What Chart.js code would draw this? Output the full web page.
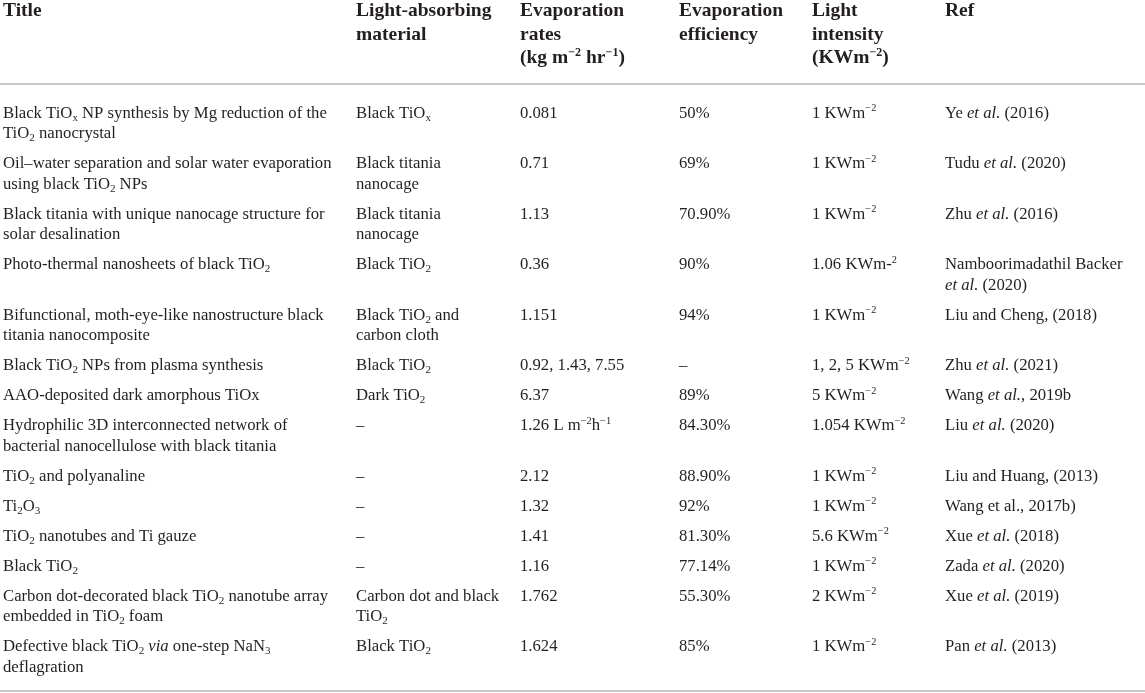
<!DOCTYPE html>
<html>
<head>
<meta charset="utf-8">
<script src="https://cdn.jsdelivr.net/npm/chart.js@4.4.1/dist/chart.umd.min.js"></script>
<style>
  html, body { margin: 0; padding: 0; background: #ffffff; }
  #wrap { width: 1145px; height: 693px; position: relative; }
</style>
</head>
<body>
<div id="wrap"><canvas id="c"></canvas></div>
<script>
// ---------------- DATA ----------------
// markup: _{..} subscript, ^{..} superscript, *..* italic, \n line break
const headers = [
  "Title",
  "Light-absorbing\nmaterial",
  "Evaporation\nrates\n(kg m^{−2} hr^{−1})",
  "Evaporation\nefficiency",
  "Light\nintensity\n(KWm^{−2})",
  "Ref"
];
const titles = [
  "Black TiO_{x} NP synthesis by Mg reduction of the\nTiO_{2} nanocrystal",
  "Oil–water separation and solar water evaporation\nusing black TiO_{2} NPs",
  "Black titania with unique nanocage structure for\nsolar desalination",
  "Photo-thermal nanosheets of black TiO_{2}",
  "Bifunctional, moth-eye-like nanostructure black\ntitania nanocomposite",
  "Black TiO_{2} NPs from plasma synthesis",
  "AAO-deposited dark amorphous TiOx",
  "Hydrophilic 3D interconnected network of\nbacterial nanocellulose with black titania",
  "TiO_{2} and polyanaline",
  "Ti_{2}O_{3}",
  "TiO_{2} nanotubes and Ti gauze",
  "Black TiO_{2}",
  "Carbon dot-decorated black TiO_{2} nanotube array\nembedded in TiO_{2} foam",
  "Defective black TiO_{2} *via* one-step NaN_{3}\ndeflagration"
];
const materials = [
  "Black TiO_{x}",
  "Black titania\nnanocage",
  "Black titania\nnanocage",
  "Black TiO_{2}",
  "Black TiO_{2} and\ncarbon cloth",
  "Black TiO_{2}",
  "Dark TiO_{2}",
  "–", "–", "–", "–", "–",
  "Carbon dot and black\nTiO_{2}",
  "Black TiO_{2}"
];
const rates = [
  "0.081", "0.71", "1.13", "0.36", "1.151", "0.92, 1.43, 7.55", "6.37",
  "1.26 L m^{−2}h^{−1}", "2.12", "1.32", "1.41", "1.16", "1.762", "1.624"
];
const efficiencies = [
  "50%", "69%", "70.90%", "90%", "94%", "–", "89%",
  "84.30%", "88.90%", "92%", "81.30%", "77.14%", "55.30%", "85%"
];
const intensities = [
  "1 KWm^{−2}", "1 KWm^{−2}", "1 KWm^{−2}", "1.06 KWm-^{2}", "1 KWm^{−2}",
  "1, 2, 5 KWm^{−2}", "5 KWm^{−2}", "1.054 KWm^{−2}", "1 KWm^{−2}", "1 KWm^{−2}",
  "5.6 KWm^{−2}", "1 KWm^{−2}", "2 KWm^{−2}", "1 KWm^{−2}"
];
const refs = [
  "Ye *et al.* (2016)", "Tudu *et al.* (2020)", "Zhu *et al.* (2016)",
  "Namboorimadathil Backer\n*et al.* (2020)", "Liu and Cheng, (2018)",
  "Zhu *et al.* (2021)", "Wang *et al.*, 2019b", "Liu *et al.* (2020)",
  "Liu and Huang, (2013)", "Wang et al., 2017b)", "Xue *et al.* (2018)",
  "Zada *et al.* (2020)", "Xue *et al.* (2019)", "Pan *et al.* (2013)"
];

// ---------------- LAYOUT (page units on the chart scales) ----------------
const W = 1145, H = 693;
const COL_X = [3, 356, 520, 679, 812, 945];
const HEADER_FIRST = 10, HEADER_LINE = 23.5, HEADER_RULE = 84;
const BODY_TOP = 97, ROW_PAD = 9.5, BODY_LINE = 20.5, BOTTOM_RULE = 691;
const BODY_FONT = 16.7, HEAD_FONT = 19.5;
const FAMILY = '"Liberation Serif", "Times New Roman", serif';
const TEXT_COLOR = '#231f20', RULE_COLOR = '#c8c8c8';

const columns = [titles, materials, rates, efficiencies, intensities, refs];
const nLines = s => s.split('\n').length;
const rowLines = titles.map((_, r) => Math.max(...columns.map(col => nLines(col[r]))));
const rowFirstLine = [];
{
  let top = BODY_TOP;
  rowLines.forEach(n => {
    rowFirstLine.push(top + ROW_PAD / 2 + BODY_LINE / 2);
    top += ROW_PAD + BODY_LINE * n;
  });
}

function parseRich(str) {
  return str.split('\n').map(line => {
    const segs = []; let italic = false, buf = '', i = 0;
    const push = (t, mode) => { if (t) segs.push({ t, mode, italic }); };
    while (i < line.length) {
      const ch = line[i];
      if (ch === '*') { push(buf, 'n'); buf = ''; italic = !italic; i++; continue; }
      if ((ch === '_' || ch === '^') && line[i + 1] === '{') {
        push(buf, 'n'); buf = '';
        const end = line.indexOf('}', i);
        push(line.slice(i + 2, end), ch === '_' ? 'sub' : 'sup');
        i = end + 1; continue;
      }
      buf += ch; i++;
    }
    push(buf, 'n');
    return segs;
  });
}

function drawRich(ctx, str, x, yCenter, size, bold, lineStep) {
  const lines = parseRich(str);
  lines.forEach((segs, li) => {
    const base = yCenter + li * lineStep + size * 0.33;
    let cx = x;
    segs.forEach(s => {
      let fs = size, dy = 0;
      if (s.mode === 'sub') { fs = size * 0.66; dy = size * 0.2; }
      if (s.mode === 'sup') { fs = size * 0.62; dy = -size * 0.38; }
      ctx.font = (s.italic ? 'italic ' : '') + (bold ? 'bold ' : '') + fs + 'px ' + FAMILY;
      ctx.fillText(s.t, cx, base + dy);
      cx += ctx.measureText(s.t).width;
    });
  });
}

// datasets: one per column, points anchor each cell's first line
const datasets = columns.map((col, c) => ({
  label: headers[c],
  data: col.map((txt, r) => ({ x: COL_X[c], y: rowFirstLine[r], txt })),
  pointRadius: 0, showLine: false
}));
datasets.push({
  label: 'header',
  data: headers.map((txt, c) => ({ x: COL_X[c], y: HEADER_FIRST, txt, head: true })),
  pointRadius: 0, showLine: false
});

const tablePlugin = {
  id: 'tableText',
  afterDatasetsDraw(chart) {
    const ctx = chart.ctx, xs = chart.scales.x, ys = chart.scales.y;
    ctx.save();
    // rules
    ctx.strokeStyle = RULE_COLOR; ctx.lineWidth = 2;
    [HEADER_RULE, BOTTOM_RULE].forEach(v => {
      const y = ys.getPixelForValue(v);
      ctx.beginPath(); ctx.moveTo(xs.getPixelForValue(0), y); ctx.lineTo(xs.getPixelForValue(W), y); ctx.stroke();
    });
    ctx.fillStyle = TEXT_COLOR; ctx.textBaseline = 'alphabetic'; ctx.textAlign = 'left';
    chart.data.datasets.forEach((ds, di) => {
      const meta = chart.getDatasetMeta(di);
      meta.data.forEach((pt, i) => {
        const d = ds.data[i];
        const head = !!d.head;
        const step = (ys.getPixelForValue(head ? HEADER_LINE : BODY_LINE) - ys.getPixelForValue(0));
        drawRich(ctx, d.txt, pt.x, pt.y, head ? HEAD_FONT : BODY_FONT, head, step);
      });
    });
    ctx.restore();
  }
};

new Chart(document.getElementById('c'), {
  type: 'scatter',
  data: { datasets },
  options: {
    responsive: true, maintainAspectRatio: false, animation: false,
    layout: { padding: 0 },
    plugins: { legend: { display: false }, tooltip: { enabled: false } },
    events: [],
    scales: {
      x: { type: 'linear', min: 0, max: W, display: false },
      y: { type: 'linear', min: 0, max: H, reverse: true, display: false }
    }
  },
  plugins: [tablePlugin]
});
</script>
</body>
</html>
